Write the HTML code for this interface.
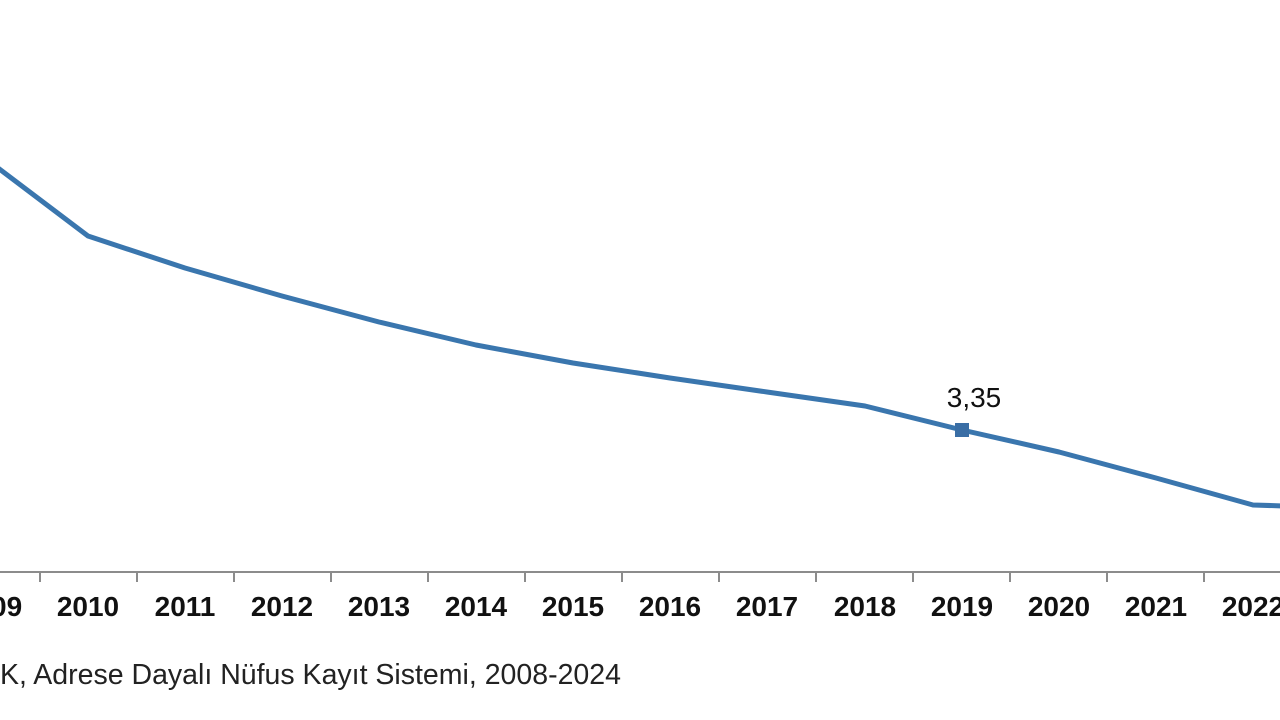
<!DOCTYPE html>
<html><head><meta charset="utf-8"><style>
html,body{margin:0;padding:0;background:#fff;width:1280px;height:720px;overflow:hidden}
svg{display:block}
</style></head><body>
<svg width="1280" height="720" viewBox="0 0 1280 720" xmlns="http://www.w3.org/2000/svg">
<rect width="1280" height="720" fill="#fff"/>
<line x1="0" y1="572" x2="1280" y2="572" stroke="#8c8c8c" stroke-width="2"/>
<g stroke="#8c8c8c" stroke-width="2">
<line x1="40" y1="572" x2="40" y2="582"/><line x1="137" y1="572" x2="137" y2="582"/><line x1="234" y1="572" x2="234" y2="582"/><line x1="331" y1="572" x2="331" y2="582"/><line x1="428" y1="572" x2="428" y2="582"/><line x1="525" y1="572" x2="525" y2="582"/><line x1="622" y1="572" x2="622" y2="582"/><line x1="719" y1="572" x2="719" y2="582"/><line x1="816" y1="572" x2="816" y2="582"/><line x1="913" y1="572" x2="913" y2="582"/><line x1="1010" y1="572" x2="1010" y2="582"/><line x1="1107" y1="572" x2="1107" y2="582"/><line x1="1204" y1="572" x2="1204" y2="582"/>
</g>
<g font-family="Liberation Sans, sans-serif" font-weight="bold" font-size="28" fill="#111" text-anchor="middle">
<text x="-9" y="616">2009</text><text x="88" y="616">2010</text><text x="185" y="616">2011</text><text x="282" y="616">2012</text><text x="379" y="616">2013</text><text x="476" y="616">2014</text><text x="573" y="616">2015</text><text x="670" y="616">2016</text><text x="767" y="616">2017</text><text x="865" y="616">2018</text><text x="962" y="616">2019</text><text x="1059" y="616">2020</text><text x="1156" y="616">2021</text><text x="1253" y="616">2022</text>
</g>
<polyline fill="none" stroke="#3a76ae" stroke-width="5" stroke-linejoin="round" points="-10,162 88,236 185,268 282,296 379,322 476,345 573,363 670,378 767,392 865,406 962,430 1059,452 1156,478 1253,505 1285,506"/>
<rect x="955" y="423" width="14" height="14" fill="#3a6ea5"/>
<text x="974" y="407" font-family="Liberation Sans, sans-serif" font-size="28" fill="#111" text-anchor="middle">3,35</text>
<text x="0" y="684" font-family="Liberation Sans, sans-serif" font-size="28.5" fill="#222">K, Adrese Dayalı Nüfus Kayıt Sistemi, 2008-2024</text>
</svg>
</body></html>
